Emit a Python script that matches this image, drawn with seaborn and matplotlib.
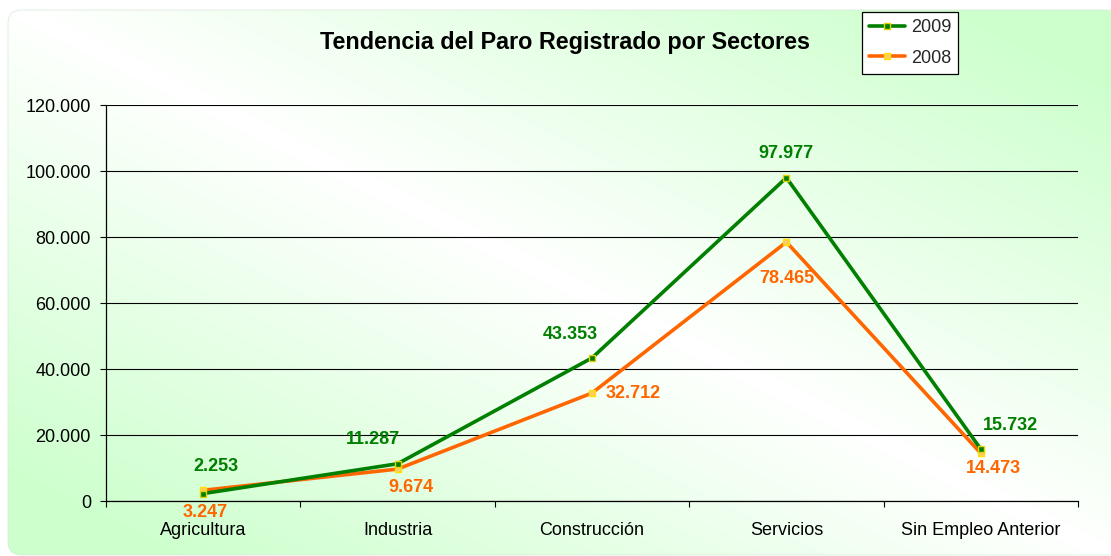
import numpy as np
import pandas as pd
import matplotlib
matplotlib.use("Agg")
import matplotlib.pyplot as plt
from matplotlib.patches import FancyBboxPatch
from matplotlib.ticker import FuncFormatter, FixedLocator
import seaborn as sns

# datos
sectores = ["Agricultura", "Industria", "Construcción", "Servicios", "Sin Empleo Anterior"]
paro_2009 = [2253, 11287, 43353, 97977, 15732]
paro_2008 = [3247, 9674, 32712, 78465, 14473]

# desplazamiento de las etiquetas (pixeles)
off_2009 = [(13, 27), (-25, 24), (-22, 23), (0, 24), (30, 24)]
off_2008 = [(2, -22), (13, -18), (41, 0), (0, -36), (13, -15)]

VERDE = "#007f00"
NARANJA = "#ff6600"


def fmt_miles(v, pos=None):
    return f"{int(round(v)):,}".replace(",", ".")


def main():
    sns.set_theme(style="white")
    plt.rcParams["font.family"] = ["Liberation Sans", "DejaVu Sans"]

    fig = plt.figure(figsize=(11.11, 5.56), dpi=100)
    W, H = 1111, 556

    # fondo degradado (blanco en la diagonal, verde en las esquinas)
    bg = fig.add_axes([0, 0, 1, 1])
    bg.set_axis_off()
    bg.set_xlim(0, 1)
    bg.set_ylim(0, 1)
    xs = np.linspace(0, 1, 400)
    ys = np.linspace(0, 1, 200)
    X, Y = np.meshgrid(xs, ys)
    t = np.clip(np.abs(X - Y) * 1.15, 0, 1)[..., None]
    blanco = np.array([1.0, 1.0, 1.0])
    verde_claro = np.array([204, 255, 204]) / 255
    img = blanco * (1 - t) + verde_claro * t
    im = bg.imshow(img, extent=[0, 1, 0, 1], aspect="auto", origin="upper")
    caja = FancyBboxPatch((8 / W, 1 / H), 1.1, 1 - 11 / H,
                          boxstyle="round,pad=0,rounding_size=0.012",
                          mutation_aspect=2.0, transform=bg.transAxes,
                          facecolor="none", edgecolor="#d8e8d8", lw=0.5)
    bg.add_patch(caja)
    im.set_clip_path(caja)

    # area del grafico
    ax = fig.add_axes([106 / W, 1 - 501 / H, (1078 - 106) / W, (501 - 105) / H])
    ax.patch.set_alpha(0)

    pos = list(range(len(sectores)))
    df = pd.DataFrame({"pos": pos * 2,
                       "paro": paro_2009 + paro_2008,
                       "anio": ["2009"] * 5 + ["2008"] * 5})

    sns.lineplot(data=df[df.anio == "2009"], x="pos", y="paro", ax=ax,
                 color=VERDE, lw=2.6, marker="s", markersize=5,
                 markerfacecolor=VERDE, markeredgecolor="#e6d200",
                 markeredgewidth=1.0, label="2009", zorder=4)
    sns.lineplot(data=df[df.anio == "2008"], x="pos", y="paro", ax=ax,
                 color=NARANJA, lw=2.6, marker="s", markersize=5,
                 markerfacecolor="#ffcc66", markeredgecolor="#ffe000",
                 markeredgewidth=1.0, label="2008", zorder=3)

    for i in pos:
        ax.annotate(fmt_miles(paro_2009[i]), (i, paro_2009[i]),
                    xytext=off_2009[i], textcoords="offset pixels",
                    ha="center", va="center", color=VERDE,
                    fontsize=13, fontweight="bold")
        ax.annotate(fmt_miles(paro_2008[i]), (i, paro_2008[i]),
                    xytext=off_2008[i], textcoords="offset pixels",
                    ha="center", va="center", color=NARANJA,
                    fontsize=13, fontweight="bold")

    ax.set_xlim(-0.5, len(sectores) - 0.5)
    ax.set_ylim(0, 120000)
    ax.set_yticks(np.arange(0, 120001, 20000))
    ax.yaxis.set_major_formatter(FuncFormatter(fmt_miles))
    ax.set_xticks(pos)
    ax.set_xticklabels(sectores)
    ax.xaxis.set_minor_locator(FixedLocator(np.arange(-0.5, len(sectores), 1.0)))
    ax.set_xlabel("")
    ax.set_ylabel("")

    ax.grid(axis="y", color="black", lw=0.8)
    ax.set_axisbelow(True)
    for s in ["top", "right"]:
        ax.spines[s].set_visible(False)
    for s in ["left", "bottom"]:
        ax.spines[s].set_color("black")
        ax.spines[s].set_linewidth(0.9)

    ax.tick_params(axis="y", which="major", left=True, length=4.3, width=0.8,
                   color="black", pad=6.5, labelsize=13, labelcolor="black")
    ax.tick_params(axis="x", which="major", bottom=False, length=0, pad=15,
                   labelsize=13, labelcolor="black")
    ax.tick_params(axis="x", which="minor", bottom=True, length=4, width=0.8,
                   color="black")

    ax.legend_.remove()
    h, l = ax.get_legend_handles_labels()
    leg = fig.legend(h, l, loc="upper left",
                     bbox_to_anchor=(862 / W, 1 - 12 / H),
                     bbox_transform=fig.transFigure, borderaxespad=0,
                     fontsize=13, frameon=True, fancybox=False,
                     edgecolor="black", facecolor="white", framealpha=1,
                     handlelength=2.0, handletextpad=0.3, labelspacing=0.75,
                     borderpad=0.4)
    leg.get_frame().set_linewidth(0.9)

    fig.text(565 / W, 1 - 43 / H, "Tendencia del Paro Registrado por Sectores",
             ha="center", va="center", fontsize=16.8, fontweight="bold",
             color="black")

    fig.savefig("out.png", dpi=100)
    plt.close(fig)


if __name__ == "__main__":
    main()
